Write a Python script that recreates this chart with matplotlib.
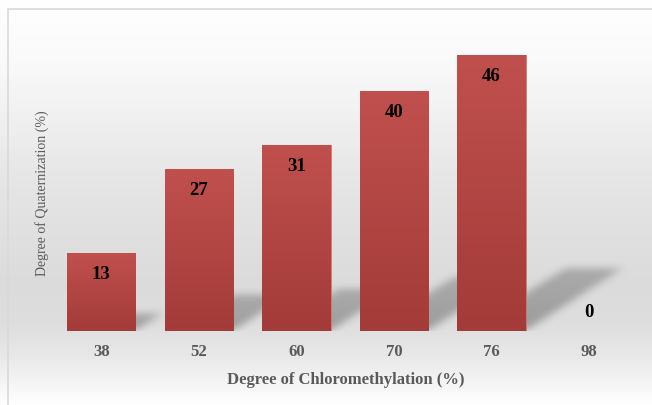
import numpy as np
import matplotlib
matplotlib.use("Agg")
import matplotlib.pyplot as plt
from matplotlib.patches import Rectangle

# data
categories = ["38", "52", "60", "70", "76", "98"]
values = [13, 27, 31, 40, 46, 0]

plt.rcParams['font.family'] = ['Liberation Serif', 'DejaVu Serif']

fig = plt.figure(figsize=(6.52, 4.06), dpi=100)

# background gradient for the whole chart area
bg = fig.add_axes([0, 0, 1, 1], zorder=-10)
yy = np.linspace(0, 1, 400)
shade = np.interp(yy, [0.0, 0.04, 0.12, 0.20, 0.30, 0.55, 0.85, 1.0],
                  [1.0, 0.97, 0.91, 0.87, 0.86, 0.90, 0.98, 1.0])
col = np.repeat(shade[:, None], 2, axis=1)
bg.imshow(np.dstack([col, col, col]), aspect='auto', extent=[0, 1, 0, 1], origin='lower')
bg.add_patch(Rectangle((8/652, -0.1), 1.2, (406-10)/406 + 0.1, fill=False,
                       edgecolor='#d9d9d9', lw=1.2, transform=bg.transAxes))
bg.set_xlim(0, 1); bg.set_ylim(0, 1)
bg.axis('off')

ax = fig.add_axes([52.5/652, 74/406, 585.5/652, 300/406])
ax.patch.set_alpha(0)
x = np.arange(len(categories))
w = 0.70
xlo, xhi = -0.5, len(categories) - 0.5
ylo, yhi = 0, 50
ax.set_xlim(xlo, xhi)
ax.set_ylim(ylo, yhi)

# soft floor shadows behind the bars, rasterised and blurred
nx, ny = 600, 320
gx = np.linspace(xlo, xhi, nx)
gy = np.linspace(ylo, yhi, ny)
GX, GY = np.meshgrid(gx, gy)
mask = np.zeros((ny, nx))
for xi, v in zip(x, values):
    if v <= 0:
        continue
    dy = v * 0.225
    dx = v * 0.0215
    t = np.clip(GY / dy, 0, None)
    left = xi - w/2 + 0.08 + dx * t + 0.04 * t
    right = xi + w/2 + dx * t
    inside = (GY >= 0) & (GY <= dy) & (GX >= left) & (GX <= right)
    mask[inside] = np.maximum(mask[inside], 1 - 0.25 * t[inside])

def box_blur(a, r, axis):
    k = np.ones(2 * r + 1) / (2 * r + 1)
    return np.apply_along_axis(lambda m: np.convolve(m, k, mode='same'), axis, a)

for _ in range(2):
    mask = box_blur(mask, 5, 1)
    mask = box_blur(mask, 4, 0)

shadow = np.zeros((ny, nx, 4))
shadow[..., :3] = 0.35
shadow[..., 3] = np.clip(mask, 0, 1) * 0.5
ax.imshow(shadow, aspect='auto', origin='lower', extent=[xlo, xhi, ylo, yhi],
          zorder=1, interpolation='bilinear')

# bars with a vertical colour gradient
top_c = np.array([192, 80, 77]) / 255
bot_c = np.array([163, 59, 57]) / 255
grad = np.linspace(0, 1, 100)[:, None]
img = bot_c[None, None, :] * (1 - grad[..., None]) + top_c[None, None, :] * grad[..., None]
bars = ax.bar(x, values, width=w, color='#b8474a', edgecolor='#d47a78', linewidth=0.6, zorder=2)
for b in bars:
    h = b.get_height()
    if h <= 0:
        continue
    im = ax.imshow(img, aspect='auto', origin='lower', zorder=2.5,
                   extent=[b.get_x(), b.get_x() + b.get_width(), 0, h])
    im.set_clip_path(b)

for xi, v in zip(x, values):
    if v > 0:
        ax.annotate(str(v), (xi, v), xytext=(0, -15), textcoords='offset points',
                    ha='center', va='center', fontsize=13.5, fontweight='bold', zorder=5)
    else:
        ax.annotate(str(v), (xi, v), xytext=(0, 14), textcoords='offset points',
                    ha='center', va='center', fontsize=13.5, fontweight='bold', zorder=5)

ax.set_xticks(x)
ax.set_xticklabels(categories, fontsize=12, fontweight='bold', color='#595959')
ax.tick_params(axis='x', length=0, pad=9)
ax.set_yticks([])
for sp in ax.spines.values():
    sp.set_visible(False)

fig.text(346/652, 1 - 380/406, "Degree of Chloromethylation (%)", ha='center', va='center',
         fontsize=12, fontweight='bold', color='#595959')
fig.text(42/652, 1 - 193/406, "Degree of Quaternization (%)", ha='center', va='center',
         rotation=90, fontsize=10, color='#595959')

fig.savefig("out.png", dpi=100)
